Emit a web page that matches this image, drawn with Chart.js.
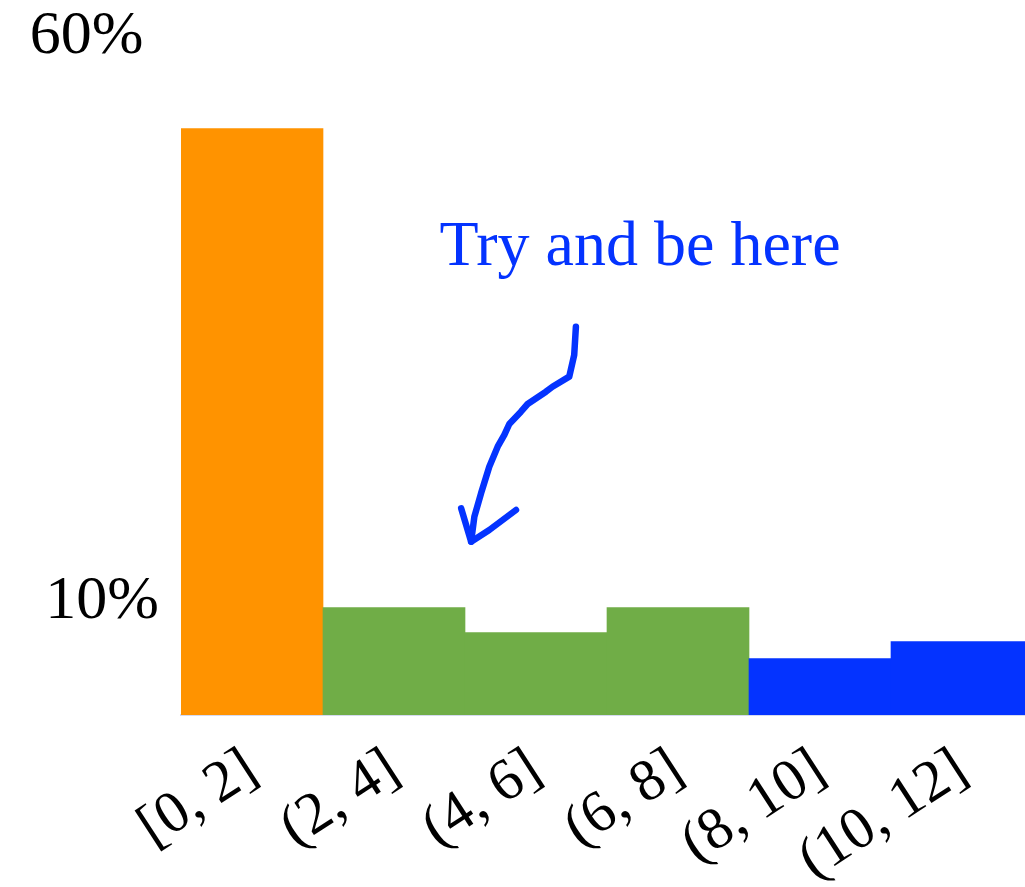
<!DOCTYPE html>
<html>
<head>
<meta charset="utf-8">
<script src="https://cdn.jsdelivr.net/npm/chart.js@4/dist/chart.umd.min.js"></script>
<style>
  html, body { margin: 0; padding: 0; overflow: hidden; background: #fff; }
  #wrap { position: relative; width: 1033px; height: 887px; }
</style>
</head>
<body>
<div id="wrap"><canvas id="c"></canvas></div>
<script>
// Share of items per interval
const categories = ['[0, 2]', '(2, 4]', '(4, 6]', '(6, 8]', '(8, 10]', '(10, 12]'];
const shares = [51.9, 9.5, 7.3, 9.5, 5.0, 6.5];
const barColors = ['#FF9300', '#70AD47', '#70AD47', '#70AD47', '#0433FF', '#0433FF'];
const yTicks = [10, 60];

const SERIF = '"Liberation Serif", "Times New Roman", Times, serif';
const BLUE = '#0433FF';

// Hand-drawn callout, in (category index, percent) coordinates
const calloutText = { text: 'Try and be here', at: [1.32, 39.8] };
const calloutStroke = [[2.281,34.36],[2.269,31.86],[2.234,29.94],[2.116,29.05],[2.070,28.61],
  [1.941,27.52],[1.894,26.84],[1.812,25.75],[1.777,24.78],[1.730,23.74],[1.671,21.97],
  [1.613,19.62],[1.566,17.55],[1.543,15.34]];
const calloutHead = [[1.473,18.29],[1.543,15.34],[1.671,16.37],[1.859,18.14]];

const callout = {
  id: 'callout',
  afterDatasetsDraw(chart) {
    const xs = chart.scales.x, ys = chart.scales.y;
    const step = xs.getPixelForValue(1) - xs.getPixelForValue(0);
    const px = f => xs.getPixelForValue(0) + f * step;
    const py = v => ys.getPixelForValue(v);
    const ctx = chart.ctx;
    ctx.save();
    ctx.fillStyle = BLUE;
    ctx.font = '64px ' + SERIF;
    ctx.textAlign = 'left';
    ctx.textBaseline = 'alphabetic';
    ctx.fillText(calloutText.text, px(calloutText.at[0]), py(calloutText.at[1]));
    ctx.strokeStyle = BLUE;
    ctx.lineWidth = 6.5;
    ctx.lineCap = 'round';
    ctx.lineJoin = 'round';
    for (const path of [calloutStroke, calloutHead]) {
      ctx.beginPath();
      path.forEach(([f, v], i) => i ? ctx.lineTo(px(f), py(v)) : ctx.moveTo(px(f), py(v)));
      ctx.stroke();
    }
    ctx.restore();
  }
};

new Chart(document.getElementById('c'), {
  type: 'bar',
  data: {
    labels: categories,
    datasets: [{
      data: shares,
      backgroundColor: barColors,
      borderWidth: 0,
      barPercentage: 1,
      categoryPercentage: 1
    }]
  },
  options: {
    responsive: true,
    maintainAspectRatio: false,
    animation: false,
    layout: { padding: 0 },
    plugins: { legend: { display: false }, tooltip: { enabled: false } },
    scales: {
      x: {
        grid: { display: false, drawTicks: false },
        border: { display: true, color: '#D5DAF0', width: 2 },
        ticks: {
          color: '#000',
          font: { family: SERIF, size: 59 },
          minRotation: 33,
          maxRotation: 33,
          padding: 20,
          autoSkip: false
        },
        afterFit(s) { s.height = 172; s.paddingLeft = 0; s.paddingRight = 0; }
      },
      y: {
        min: 0,
        max: 63.27,
        grid: { display: false, drawTicks: false },
        border: { display: false },
        ticks: {
          color: '#000',
          font: { family: SERIF, size: 62 },
          padding: 22,
          callback: v => v === 60 ? '60% ' : v + '%'
        },
        afterBuildTicks(s) { s.ticks = yTicks.map(v => ({ value: v })); },
        afterFit(s) { s.width = 181; s.paddingTop = 0; s.paddingBottom = 0; }
      }
    }
  },
  plugins: [callout]
});
</script>
</body>
</html>
